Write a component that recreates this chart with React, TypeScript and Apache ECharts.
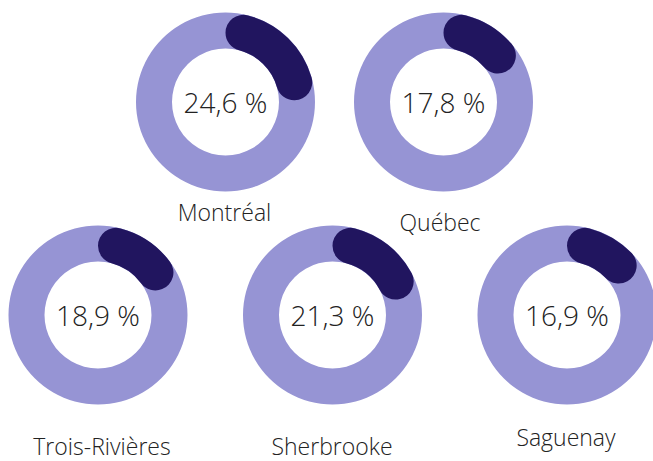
import React, { useEffect, useRef } from "react";
import * as echarts from "echarts";

const cities = ["Montréal", "Québec", "Trois-Rivières", "Sherbrooke", "Saguenay"];
const values = [24.6, 17.8, 18.9, 21.3, 16.9];
const valueLabels = ["24,6 %", "17,8 %", "18,9 %", "21,3 %", "16,9 %"];

// layout (pixels)
const centers: [number, number][] = [
  [225.5, 102],
  [443.5, 102],
  [98, 315],
  [332.5, 315],
  [567, 315],
];
const labelY = [212, 222, 446, 446, 437];
const labelX = [224.5, 440, 102, 332, 566];

const LIGHT = "#9694d4";
const DARK = "#21155f";
const TEXT = "#222222";
const FONT = "'Open Sans', sans-serif";

export default function App() {
  const ref = useRef<HTMLDivElement>(null);
  useEffect(() => {
    if (!ref.current) return;
    const chart = echarts.init(ref.current, undefined, { renderer: "svg" });
    const series: any[] = [];
    const graphics: any[] = [];
    cities.forEach((city, i) => {
      const [cx, cy] = centers[i];
      series.push({
        type: "pie",
        silent: true,
        radius: [53.5, 89.5],
        center: [cx, cy],
        label: { show: false },
        labelLine: { show: false },
        emphasis: { disabled: true },
        data: [{ value: 1, itemStyle: { color: LIGHT } }],
      });
      series.push({
        type: "pie",
        silent: true,
        radius: [53.5, 89.5],
        center: [cx, cy],
        startAngle: 90,
        clockwise: true,
        label: { show: false },
        labelLine: { show: false },
        emphasis: { disabled: true },
        data: [
          { value: values[i], itemStyle: { color: DARK, borderRadius: 18 } },
          { value: 100 - values[i], itemStyle: { color: "transparent" } },
        ],
      });
      graphics.push({
        type: "text",
        x: cx,
        y: cy,
        style: {
          text: valueLabels[i],
          fill: TEXT,
          font: `300 28px ${FONT}`,
          align: "center",
          verticalAlign: "middle",
        },
      });
      graphics.push({
        type: "text",
        x: labelX[i],
        y: labelY[i],
        style: {
          text: city,
          fill: TEXT,
          font: `300 23px ${FONT}`,
          lineHeight: 23,
          align: "center",
          verticalAlign: "middle",
        },
      });
    });
    chart.setOption({
      animation: false,
      backgroundColor: "#ffffff",
      series,
      graphic: graphics,
    });
    return () => chart.dispose();
  }, []);
  return (
    <div
      ref={ref}
      style={{ position: "fixed", left: 0, top: 0, width: 653, height: 461 }}
    />
  );
}
